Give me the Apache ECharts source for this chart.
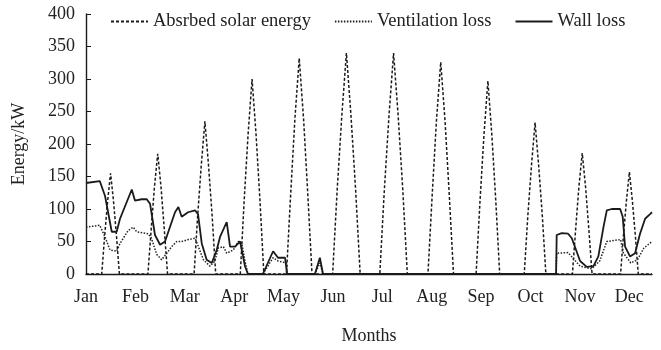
<!DOCTYPE html>
<html>
<head>
<meta charset="utf-8">
<script src="https://cdn.jsdelivr.net/npm/echarts@6/dist/echarts.min.js"></script>
<style>
  html, body { margin: 0; padding: 0; background: #fff; }
  #chart { width: 661px; height: 350px; }
</style>
</head>
<body>
<div id="chart"></div>
<script>
// Month labels along the time axis
const months = ['Jan', 'Feb', 'Mar', 'Apr', 'May', 'Jun', 'Jul', 'Aug', 'Sep', 'Oct', 'Nov', 'Dec'];
const yTicks = [0, 50, 100, 150, 200, 250, 300, 350, 400];

// One typical day per month, 24 h each: [hour, kW]
const solarEnergy = [
  [0, 0],
  [8, 0], [9.5, 59], [11, 112], [12.5, 155], [14, 112], [15.5, 59], [17, 0],
  [31.5, 0], [33.2, 70], [34.8, 133], [36.5, 185], [38.2, 133], [39.8, 70], [41.5, 0],
  [55, 0], [56.8, 89], [58.7, 169], [60.5, 235], [62.3, 169], [64.2, 89], [66, 0],
  [78.5, 0], [80.5, 114], [82.5, 216], [84.5, 300], [86.5, 216], [88.5, 114], [90.5, 0],
  [102, 0], [104.2, 126], [106.3, 239], [108.5, 332], [110.7, 239], [112.8, 126], [115, 0],
  [125.5, 0], [127.8, 129], [130.2, 245], [132.5, 340], [134.8, 245], [137.2, 129], [139.5, 0],
  [149.5, 0], [151.8, 129], [154.2, 245], [156.5, 340], [158.8, 245], [161.2, 129], [163.5, 0],
  [174, 0], [176.2, 124], [178.3, 235], [180.5, 326], [182.7, 235], [184.8, 124], [187, 0],
  [198.5, 0], [200.5, 113], [202.5, 214], [204.5, 297], [206.5, 214], [208.5, 113], [210.5, 0],
  [223, 0], [224.8, 89], [226.7, 168], [228.5, 233], [230.3, 168], [232.2, 89], [234, 0],
  [247.5, 0], [249.2, 71], [250.8, 134], [252.5, 186], [254.2, 134], [255.8, 71], [257.5, 0],
  [272, 0], [273.5, 60], [275, 113], [276.5, 157], [278, 113], [279.5, 60], [281, 0],
  [288, 0]
];

const ventilationLoss = [
  [0, 72], [7, 75], [9.7, 57], [12.2, 37], [15.6, 35], [17.3, 47], [21.5, 67], [24, 72],
  [25.8, 65], [31.6, 62], [33.3, 55], [36, 30], [38.5, 22], [41.1, 32], [43.6, 42], [46.2, 50],
  [48.7, 50], [52.1, 53], [55.5, 55], [57.2, 42], [59.7, 22], [63.1, 12], [65.6, 20], [67.3, 40],
  [69.9, 42], [71.6, 32], [75, 37], [77.5, 50], [79.2, 48], [80.9, 20], [82.4, 0], [90, 0],
  [95.2, 25], [97.7, 20], [102, 17], [102.3, 0], [116.5, 0], [119, 17], [120.6, 0], [239.2, 0],
  [239.5, 32], [245.3, 33], [251.4, 12], [257.2, 8], [261.4, 20], [265, 50], [272, 53], [273.5, 32],
  [277.2, 17], [280.6, 22], [283.9, 40], [288, 50]
];

const wallLoss = [
  [0, 140], [7, 143], [9.7, 120], [13.1, 65], [15.6, 65], [17.3, 85], [23.3, 130], [24.9, 113],
  [28.3, 115], [30.9, 115], [32.6, 108], [35.1, 60], [37.7, 45], [40.2, 50], [45.3, 95], [47, 103],
  [48.7, 88], [51.9, 95], [55.5, 98], [57, 92], [58.9, 47], [61.4, 22], [64, 17], [66.5, 37],
  [68.2, 57], [71.6, 80], [73.3, 42], [75.8, 42], [78.4, 50], [80.9, 12], [82.4, 0], [90, 0],
  [95.2, 35], [97.7, 25], [101.3, 25], [102.3, 0], [116.5, 0], [119, 25], [120.6, 0], [239.2, 0],
  [239.5, 60], [242.1, 63], [245.3, 62], [247.2, 55], [251.4, 20], [254.8, 11], [258.2, 12], [260.7, 27],
  [263.3, 72], [265, 98], [267.5, 100], [271.8, 100], [273.1, 88], [274.3, 42], [276.8, 27], [279.4, 32],
  [281.9, 62], [284.5, 85], [287, 92], [288, 95]
];

const serif = 'Liberation Serif';
const ink = '#1a1a1a';

const chart = echarts.init(document.getElementById('chart'), null, { renderer: 'canvas' });
chart.setOption({
  animation: false,
  backgroundColor: '#fff',
  textStyle: { fontFamily: serif },
  legend: {
    left: 110,
    top: 12,
    padding: 0,
    itemWidth: 37,
    itemHeight: 14,
    itemGap: 23,
    itemStyle: { opacity: 0 },
    textStyle: { fontFamily: serif, fontSize: 18.5, color: '#222' },
    data: ['Absrbed solar energy', 'Ventilation loss', 'Wall loss']
  },
  grid: { left: 86, right: 9, top: 14, bottom: 71, containLabel: false },
  xAxis: [
    {
      type: 'value', position: 'bottom', min: 0, max: 288,
      axisLine: { show: true, onZero: false, lineStyle: { color: ink, width: 1.4 } },
      axisTick: { show: false }, axisLabel: { show: false }, splitLine: { show: false },
      name: 'Months', nameLocation: 'middle', nameGap: 53,
      nameTextStyle: { fontFamily: serif, fontSize: 18, color: '#222' }
    },
    {
      type: 'value', position: 'bottom', min: 0, max: 11.46, interval: 1,
      axisLine: { show: false }, axisTick: { show: false }, splitLine: { show: false },
      axisLabel: {
        show: true, margin: 14, showMaxLabel: false,
        fontFamily: serif, fontSize: 18, color: '#222',
        formatter: v => months[Math.round(v)] || ''
      }
    }
  ],
  yAxis: {
    type: 'value', min: yTicks[0], max: yTicks[yTicks.length - 1], interval: 50,
    axisLine: { show: true, lineStyle: { color: ink, width: 1.4 } },
    axisTick: { show: true, inside: true, length: 5, lineStyle: { color: ink } },
    splitLine: { show: false },
    axisLabel: { margin: 11, fontFamily: serif, fontSize: 18, color: '#222' },
    name: 'Energy/kW', nameLocation: 'middle', nameGap: 58,
    nameTextStyle: { fontFamily: serif, fontSize: 18, color: '#222' }
  },
  series: [
    {
      name: 'Absrbed solar energy', type: 'line', xAxisIndex: 0, data: solarEnergy,
      symbol: 'none', lineStyle: { color: ink, width: 1.5, type: [3, 2] },
      itemStyle: { color: ink }
    },
    {
      name: 'Ventilation loss', type: 'line', xAxisIndex: 0, data: ventilationLoss,
      symbol: 'none', lineStyle: { color: '#222', width: 1.5, type: [1.5, 1.5] },
      itemStyle: { color: '#222' }
    },
    {
      name: 'Wall loss', type: 'line', xAxisIndex: 0, data: wallLoss,
      symbol: 'none', lineStyle: { color: ink, width: 1.8, type: 'solid' },
      itemStyle: { color: ink }
    }
  ]
});
</script>
</body>
</html>
